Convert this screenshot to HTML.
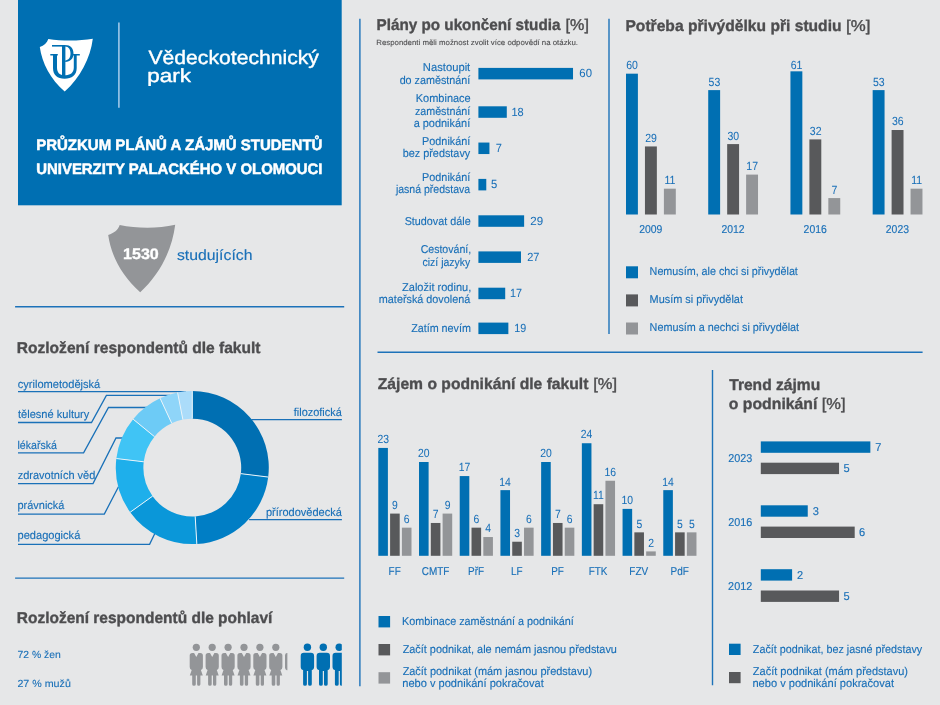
<!DOCTYPE html>
<html lang="cs"><head><meta charset="utf-8"><title>Průzkum plánů a zájmů studentů Univerzity Palackého v Olomouci</title>
<style>
html,body{margin:0;padding:0;background:#e6e7e8;}
body{width:940px;height:705px;overflow:hidden;}
svg{display:block;font-family:"Liberation Sans",sans-serif;}
text{stroke-linejoin:round;text-rendering:geometricPrecision;}
</style></head><body>
<svg width="940" height="705" viewBox="0 0 940 705">
<rect width="940" height="705" fill="#e6e7e8"/>
<rect x="18.00" y="0.00" width="323.70" height="205.30" fill="#006fb2"/>
<line x1="118.9" y1="22.4" x2="118.9" y2="107.8" stroke="#9fc8e8" stroke-width="1.6"/>
<path d="M39.8 46.9 C44 45.5 47 43 48.3 38.9 C62 41.2 79 41.2 92.8 38.8 C90.5 58 80 78 64.7 91.6 C50.5 79 42 63 39.8 46.9 Z" fill="#fff"/>
<g fill="#006fb2"><path d="M52 45 H65.4 V46.6 H52 Z"/><path d="M62 45 H65.4 V76.5 H62 Z"/><path d="M65.2 45.1 C70.4 45.1 73.5 48.5 73.5 53.6 C73.5 58.7 70.4 62 65.2 62 L65.2 60.5 C68.6 60.3 70.5 57.6 70.5 53.6 C70.5 49.6 68.6 46.8 65.2 46.6 Z"/><path d="M50.3 54 H57.8 V55.5 H50.3 Z M73 54 H79.8 V55.5 H73 Z"/><path d="M53 54.6 L53 68 C53 75 57.5 78.8 64.6 78.8 C71.8 78.8 76.7 75 76.7 68 L76.7 54.6 L73.8 54.6 L73.8 67.6 C73.8 72.6 70.6 75.2 65.9 75.2 L63.4 75.2 C59.6 75.2 57 72.6 57 67.6 L57 54.6 Z"/></g>
<text x="148.52" y="63.5" font-size="19.3" font-weight="normal" fill="#fff" stroke="#fff" stroke-width="0.4" textLength="170.36" lengthAdjust="spacingAndGlyphs">Vědeckotechnický</text>
<text x="147.19" y="81.8" font-size="18.9" font-weight="normal" fill="#fff" stroke="#fff" stroke-width="0.4" textLength="43.76" lengthAdjust="spacingAndGlyphs">park</text>
<text x="36.18" y="149.5" font-size="15.1" font-weight="bold" fill="#fff" stroke="#fff" stroke-width="0.5" textLength="286.23" lengthAdjust="spacingAndGlyphs">PRŮZKUM PLÁNŮ A ZÁJMŮ STUDENTŮ</text>
<text x="36.25" y="174.2" font-size="15.1" font-weight="bold" fill="#fff" stroke="#fff" stroke-width="0.5" textLength="286.24" lengthAdjust="spacingAndGlyphs">UNIVERZITY PALACKÉHO V OLOMOUCI</text>
<path d="M108.2 234.9 C114 233 118 230 119.7 224.9 C137 228.6 158 228.6 175.2 224.8 C172 250 160 274 140.2 292.3 C121 275 111 255 108.2 234.9 Z" fill="#939598"/>
<text x="123.02" y="259.4" font-size="15.2" font-weight="bold" fill="#fff" stroke="#fff" stroke-width="0.35" textLength="35.78" lengthAdjust="spacingAndGlyphs">1530</text>
<text x="176.98" y="260.3" font-size="14.7" font-weight="normal" fill="#1a70b8" stroke="#1a70b8" stroke-width="0.14" textLength="75.51" lengthAdjust="spacingAndGlyphs">studujících</text>
<line x1="15.1" y1="306.8" x2="344.2" y2="306.8" stroke="#1c72b9" stroke-width="1.4"/>
<line x1="15.1" y1="578.1" x2="344.2" y2="578.1" stroke="#1c72b9" stroke-width="1.4"/>
<line x1="359.9" y1="18.8" x2="359.9" y2="686.2" stroke="#1c72b9" stroke-width="1.4"/>
<line x1="609.0" y1="18.8" x2="609.0" y2="333.9" stroke="#1c72b9" stroke-width="1.4"/>
<line x1="377.5" y1="352.2" x2="922.6" y2="352.2" stroke="#1c72b9" stroke-width="1.4"/>
<line x1="712.5" y1="370.1" x2="712.5" y2="685.2" stroke="#1c72b9" stroke-width="1.4"/>
<text x="16.76" y="352.6" font-size="15.7" font-weight="bold" fill="#4d4d4f" stroke="#4d4d4f" stroke-width="0.35" textLength="243.79" lengthAdjust="spacingAndGlyphs">Rozložení respondentů dle fakult</text>
<text x="16.77" y="623.0" font-size="15.7" font-weight="bold" fill="#4d4d4f" stroke="#4d4d4f" stroke-width="0.35" textLength="255.54" lengthAdjust="spacingAndGlyphs">Rozložení respondentů dle pohlaví</text>
<text x="376.48" y="30.4" font-size="15.7" font-weight="bold" fill="#4d4d4f" stroke="#4d4d4f" stroke-width="0.35" textLength="184.02" lengthAdjust="spacingAndGlyphs">Plány po ukončení studia</text>
<text x="565.58" y="30.4" font-size="15.7" font-weight="normal" fill="#4d4d4f" stroke="#4d4d4f" stroke-width="0.4" textLength="23.31" lengthAdjust="spacingAndGlyphs">[%]</text>
<text x="625.46" y="30.5" font-size="15.7" font-weight="bold" fill="#4d4d4f" stroke="#4d4d4f" stroke-width="0.35" textLength="216.10" lengthAdjust="spacingAndGlyphs">Potřeba přivýdělku při studiu</text>
<text x="846.04" y="30.5" font-size="15.7" font-weight="normal" fill="#4d4d4f" stroke="#4d4d4f" stroke-width="0.4" textLength="24.29" lengthAdjust="spacingAndGlyphs">[%]</text>
<text x="377.78" y="389.4" font-size="15.7" font-weight="bold" fill="#4d4d4f" stroke="#4d4d4f" stroke-width="0.35" textLength="210.67" lengthAdjust="spacingAndGlyphs">Zájem o podnikání dle fakult</text>
<text x="593.25" y="389.4" font-size="15.7" font-weight="normal" fill="#4d4d4f" stroke="#4d4d4f" stroke-width="0.4" textLength="23.86" lengthAdjust="spacingAndGlyphs">[%]</text>
<text x="729.22" y="389.8" font-size="15.7" font-weight="bold" fill="#4d4d4f" stroke="#4d4d4f" stroke-width="0.35" textLength="90.93" lengthAdjust="spacingAndGlyphs">Trend zájmu</text>
<text x="728.82" y="408.9" font-size="15.7" font-weight="bold" fill="#4d4d4f" stroke="#4d4d4f" stroke-width="0.35" textLength="88.57" lengthAdjust="spacingAndGlyphs">o podnikání</text>
<text x="821.76" y="408.9" font-size="15.7" font-weight="normal" fill="#4d4d4f" stroke="#4d4d4f" stroke-width="0.4" textLength="23.75" lengthAdjust="spacingAndGlyphs">[%]</text>
<text x="376.22" y="45.1" font-size="7.6" font-weight="normal" fill="#4d4d4f" stroke="#4d4d4f" stroke-width="0.1" textLength="201.81" lengthAdjust="spacingAndGlyphs">Respondenti měli možnost zvolit více odpovědí na otázku.</text>
<polyline points="18,391.6 186,391.6" fill="none" stroke="#1a71b8" stroke-width="1.3"/>
<polyline points="18,422.5 91.5,422.5 106.4,395.4 170,395.4" fill="none" stroke="#1a71b8" stroke-width="1.3"/>
<polyline points="18,452.8 83.6,452.8 108.5,407.5 147,407.5" fill="none" stroke="#1a71b8" stroke-width="1.3"/>
<polyline points="18,483.6 93,483.6 116,438.0 124,438.0" fill="none" stroke="#1a71b8" stroke-width="1.3"/>
<polyline points="18,514.1 104.3,514.1 118.5,486.7" fill="none" stroke="#1a71b8" stroke-width="1.3"/>
<polyline points="18,544.3 149.6,544.3 155.2,532.7" fill="none" stroke="#1a71b8" stroke-width="1.3"/>
<polyline points="251.3,419.6 341.9,419.6" fill="none" stroke="#1a71b8" stroke-width="1.3"/>
<polyline points="249.1,519.6 341.9,519.6" fill="none" stroke="#1a71b8" stroke-width="1.3"/>
<path d="M192.30 391.10 A76.5 76.5 0 0 1 268.21 477.06 L240.83 473.64 A48.9 48.9 0 0 0 192.30 418.70 Z" fill="#006fb2"/>
<path d="M268.21 477.06 A76.5 76.5 0 0 1 196.84 543.97 L195.20 516.41 A48.9 48.9 0 0 0 240.83 473.64 Z" fill="#007ec5"/>
<path d="M196.84 543.97 A76.5 76.5 0 0 1 130.18 512.24 L152.59 496.14 A48.9 48.9 0 0 0 195.20 516.41 Z" fill="#0a97d9"/>
<path d="M130.18 512.24 A76.5 76.5 0 0 1 116.34 458.54 L143.74 461.81 A48.9 48.9 0 0 0 152.59 496.14 Z" fill="#1eafeb"/>
<path d="M116.34 458.54 A76.5 76.5 0 0 1 133.10 419.15 L154.46 436.63 A48.9 48.9 0 0 0 143.74 461.81 Z" fill="#40c4f5"/>
<path d="M133.10 419.15 A76.5 76.5 0 0 1 160.09 398.21 L171.71 423.25 A48.9 48.9 0 0 0 154.46 436.63 Z" fill="#6dcbf6"/>
<path d="M160.09 398.21 A76.5 76.5 0 0 1 177.57 392.53 L182.89 419.61 A48.9 48.9 0 0 0 171.71 423.25 Z" fill="#8fd5f9"/>
<path d="M177.57 392.53 A76.5 76.5 0 0 1 192.30 391.10 L192.30 418.70 A48.9 48.9 0 0 0 182.89 419.61 Z" fill="#abdcfa"/>
<line x1="268.21" y1="477.06" x2="240.83" y2="473.64" stroke="#eaf4fa" stroke-width="1"/>
<line x1="196.84" y1="543.97" x2="195.20" y2="516.41" stroke="#eaf4fa" stroke-width="1"/>
<line x1="130.18" y1="512.24" x2="152.59" y2="496.14" stroke="#eaf4fa" stroke-width="1"/>
<line x1="116.34" y1="458.54" x2="143.74" y2="461.81" stroke="#eaf4fa" stroke-width="1"/>
<line x1="133.10" y1="419.15" x2="154.46" y2="436.63" stroke="#eaf4fa" stroke-width="1"/>
<line x1="160.09" y1="398.21" x2="171.71" y2="423.25" stroke="#eaf4fa" stroke-width="1"/>
<line x1="177.57" y1="392.53" x2="182.89" y2="419.61" stroke="#eaf4fa" stroke-width="1"/>
<line x1="192.30" y1="391.10" x2="192.30" y2="418.70" stroke="#eaf4fa" stroke-width="1"/>
<text x="17.72" y="387.9" font-size="11.45" font-weight="normal" fill="#1a70b8" stroke="#1a70b8" stroke-width="0.14" textLength="82.57" lengthAdjust="spacingAndGlyphs">cyrilometodějská</text>
<text x="18.00" y="418.2" font-size="11.45" font-weight="normal" fill="#1a70b8" stroke="#1a70b8" stroke-width="0.14" textLength="71.33" lengthAdjust="spacingAndGlyphs">tělesné kultury</text>
<text x="17.48" y="448.5" font-size="11.45" font-weight="normal" fill="#1a70b8" stroke="#1a70b8" stroke-width="0.14" textLength="39.42" lengthAdjust="spacingAndGlyphs">lékařská</text>
<text x="17.73" y="478.8" font-size="11.45" font-weight="normal" fill="#1a70b8" stroke="#1a70b8" stroke-width="0.14" textLength="77.58" lengthAdjust="spacingAndGlyphs">zdravotních věd</text>
<text x="17.51" y="509.1" font-size="11.45" font-weight="normal" fill="#1a70b8" stroke="#1a70b8" stroke-width="0.14" textLength="46.88" lengthAdjust="spacingAndGlyphs">právnická</text>
<text x="17.50" y="539.4" font-size="11.45" font-weight="normal" fill="#1a70b8" stroke="#1a70b8" stroke-width="0.14" textLength="62.79" lengthAdjust="spacingAndGlyphs">pedagogická</text>
<text x="293.76" y="416.0" font-size="11.45" font-weight="normal" fill="#1a70b8" stroke="#1a70b8" stroke-width="0.14" textLength="48.03" lengthAdjust="spacingAndGlyphs">filozofická</text>
<text x="266.01" y="516.2" font-size="11.45" font-weight="normal" fill="#1a70b8" stroke="#1a70b8" stroke-width="0.14" textLength="75.78" lengthAdjust="spacingAndGlyphs">přírodovědecká</text>
<text x="17.44" y="658.4" font-size="10.3" font-weight="normal" fill="#1a70b8" stroke="#1a70b8" stroke-width="0.12" textLength="43.33" lengthAdjust="spacingAndGlyphs">72 % žen</text>
<text x="17.43" y="686.5" font-size="10.3" font-weight="normal" fill="#1a70b8" stroke="#1a70b8" stroke-width="0.12" textLength="53.42" lengthAdjust="spacingAndGlyphs">27 % mužů</text>
<defs><clipPath id="cw"><rect x="180" y="640" width="107.6" height="50"/></clipPath><clipPath id="cm"><rect x="295" y="640" width="46.8" height="50"/></clipPath></defs>
<g fill="#939598" clip-path="url(#cw)"><g transform="translate(196.30 666.9)"><circle cx="0" cy="-19.6" r="3.6"/><path d="M-6.6 -11.3 Q-6.6 -14 -4 -14 L-2.2 -14 L0 -9.9 L2.2 -14 L4 -14 Q6.6 -14 6.6 -11.3 L6.6 0 Q6.6 2.6 4.6 3 L6.5 8.6 L4.1 8.6 L4.1 17.4 Q4.1 18.9 2.4 18.9 Q0.8 18.9 0.8 17.4 L0.8 8.6 L-0.5 8.6 L-0.5 17.4 Q-0.5 18.9 -2.3 18.9 Q-4.1 18.9 -4.1 17.4 L-4.1 8.6 L-6.5 8.6 L-4.6 3 Q-6.6 2.6 -6.6 0 Z"/></g><g transform="translate(212.20 666.9)"><circle cx="0" cy="-19.6" r="3.6"/><path d="M-6.6 -11.3 Q-6.6 -14 -4 -14 L-2.2 -14 L0 -9.9 L2.2 -14 L4 -14 Q6.6 -14 6.6 -11.3 L6.6 0 Q6.6 2.6 4.6 3 L6.5 8.6 L4.1 8.6 L4.1 17.4 Q4.1 18.9 2.4 18.9 Q0.8 18.9 0.8 17.4 L0.8 8.6 L-0.5 8.6 L-0.5 17.4 Q-0.5 18.9 -2.3 18.9 Q-4.1 18.9 -4.1 17.4 L-4.1 8.6 L-6.5 8.6 L-4.6 3 Q-6.6 2.6 -6.6 0 Z"/></g><g transform="translate(228.10 666.9)"><circle cx="0" cy="-19.6" r="3.6"/><path d="M-6.6 -11.3 Q-6.6 -14 -4 -14 L-2.2 -14 L0 -9.9 L2.2 -14 L4 -14 Q6.6 -14 6.6 -11.3 L6.6 0 Q6.6 2.6 4.6 3 L6.5 8.6 L4.1 8.6 L4.1 17.4 Q4.1 18.9 2.4 18.9 Q0.8 18.9 0.8 17.4 L0.8 8.6 L-0.5 8.6 L-0.5 17.4 Q-0.5 18.9 -2.3 18.9 Q-4.1 18.9 -4.1 17.4 L-4.1 8.6 L-6.5 8.6 L-4.6 3 Q-6.6 2.6 -6.6 0 Z"/></g><g transform="translate(244.00 666.9)"><circle cx="0" cy="-19.6" r="3.6"/><path d="M-6.6 -11.3 Q-6.6 -14 -4 -14 L-2.2 -14 L0 -9.9 L2.2 -14 L4 -14 Q6.6 -14 6.6 -11.3 L6.6 0 Q6.6 2.6 4.6 3 L6.5 8.6 L4.1 8.6 L4.1 17.4 Q4.1 18.9 2.4 18.9 Q0.8 18.9 0.8 17.4 L0.8 8.6 L-0.5 8.6 L-0.5 17.4 Q-0.5 18.9 -2.3 18.9 Q-4.1 18.9 -4.1 17.4 L-4.1 8.6 L-6.5 8.6 L-4.6 3 Q-6.6 2.6 -6.6 0 Z"/></g><g transform="translate(259.90 666.9)"><circle cx="0" cy="-19.6" r="3.6"/><path d="M-6.6 -11.3 Q-6.6 -14 -4 -14 L-2.2 -14 L0 -9.9 L2.2 -14 L4 -14 Q6.6 -14 6.6 -11.3 L6.6 0 Q6.6 2.6 4.6 3 L6.5 8.6 L4.1 8.6 L4.1 17.4 Q4.1 18.9 2.4 18.9 Q0.8 18.9 0.8 17.4 L0.8 8.6 L-0.5 8.6 L-0.5 17.4 Q-0.5 18.9 -2.3 18.9 Q-4.1 18.9 -4.1 17.4 L-4.1 8.6 L-6.5 8.6 L-4.6 3 Q-6.6 2.6 -6.6 0 Z"/></g><g transform="translate(275.80 666.9)"><circle cx="0" cy="-19.6" r="3.6"/><path d="M-6.6 -11.3 Q-6.6 -14 -4 -14 L-2.2 -14 L0 -9.9 L2.2 -14 L4 -14 Q6.6 -14 6.6 -11.3 L6.6 0 Q6.6 2.6 4.6 3 L6.5 8.6 L4.1 8.6 L4.1 17.4 Q4.1 18.9 2.4 18.9 Q0.8 18.9 0.8 17.4 L0.8 8.6 L-0.5 8.6 L-0.5 17.4 Q-0.5 18.9 -2.3 18.9 Q-4.1 18.9 -4.1 17.4 L-4.1 8.6 L-6.5 8.6 L-4.6 3 Q-6.6 2.6 -6.6 0 Z"/></g><path d="M287.6 652.9 L286.8 652.9 Q285 653.2 285 655.5 L285 667.5 Q285 669.8 286.8 670.2 L287.6 670.2 Z"/></g>
<g fill="#006fb2" clip-path="url(#cm)"><g transform="translate(307.40 666.9)"><circle cx="0" cy="-19.6" r="3.7"/><path d="M-6.7 -11 Q-6.7 -14.2 -3.5 -14.2 L3.5 -14.2 Q6.7 -14.2 6.7 -11 L6.7 -0.5 Q6.7 2.6 4.4 3 L4.4 17.3 Q4.4 18.9 2.5 18.9 Q0.7 18.9 0.7 17.3 L0.7 4 L-0.5 4 L-0.5 17.3 Q-0.5 18.9 -2.4 18.9 Q-4.3 18.9 -4.3 17.3 L-4.3 3 Q-6.7 2.6 -6.7 -0.5 Z"/></g><g transform="translate(323.30 666.9)"><circle cx="0" cy="-19.6" r="3.7"/><path d="M-6.7 -11 Q-6.7 -14.2 -3.5 -14.2 L3.5 -14.2 Q6.7 -14.2 6.7 -11 L6.7 -0.5 Q6.7 2.6 4.4 3 L4.4 17.3 Q4.4 18.9 2.5 18.9 Q0.7 18.9 0.7 17.3 L0.7 4 L-0.5 4 L-0.5 17.3 Q-0.5 18.9 -2.4 18.9 Q-4.3 18.9 -4.3 17.3 L-4.3 3 Q-6.7 2.6 -6.7 -0.5 Z"/></g><g transform="translate(339.20 666.9)"><circle cx="0" cy="-19.6" r="3.7"/><path d="M-6.7 -11 Q-6.7 -14.2 -3.5 -14.2 L3.5 -14.2 Q6.7 -14.2 6.7 -11 L6.7 -0.5 Q6.7 2.6 4.4 3 L4.4 17.3 Q4.4 18.9 2.5 18.9 Q0.7 18.9 0.7 17.3 L0.7 4 L-0.5 4 L-0.5 17.3 Q-0.5 18.9 -2.4 18.9 Q-4.3 18.9 -4.3 17.3 L-4.3 3 Q-6.7 2.6 -6.7 -0.5 Z"/></g></g>
<rect x="478.40" y="67.90" width="94.62" height="11.50" fill="#006fb2"/>
<text x="579.36" y="77.2" font-size="11.8" font-weight="normal" fill="#1a70b8" stroke="#1a70b8" stroke-width="0.05" textLength="12.63" lengthAdjust="spacingAndGlyphs">60</text>
<text x="422.87" y="71.1" font-size="11.45" font-weight="normal" fill="#1a70b8" stroke="#1a70b8" stroke-width="0.14" textLength="47.39" lengthAdjust="spacingAndGlyphs">Nastoupit</text>
<text x="399.64" y="83.6" font-size="11.45" font-weight="normal" fill="#1a70b8" stroke="#1a70b8" stroke-width="0.14" textLength="70.63" lengthAdjust="spacingAndGlyphs">do zaměstnání</text>
<rect x="478.40" y="106.30" width="28.39" height="11.50" fill="#006fb2"/>
<text x="511.40" y="115.5" font-size="11.8" font-weight="normal" fill="#1a70b8" stroke="#1a70b8" stroke-width="0.05" textLength="12.23" lengthAdjust="spacingAndGlyphs">18</text>
<text x="415.79" y="102.2" font-size="11.45" font-weight="normal" fill="#1a70b8" stroke="#1a70b8" stroke-width="0.14" textLength="54.90" lengthAdjust="spacingAndGlyphs">Kombinace</text>
<text x="414.94" y="114.7" font-size="11.45" font-weight="normal" fill="#1a70b8" stroke="#1a70b8" stroke-width="0.14" textLength="55.33" lengthAdjust="spacingAndGlyphs">zaměstnání</text>
<text x="413.63" y="127.3" font-size="11.45" font-weight="normal" fill="#1a70b8" stroke="#1a70b8" stroke-width="0.14" textLength="56.64" lengthAdjust="spacingAndGlyphs">a podnikání</text>
<rect x="478.40" y="142.55" width="11.04" height="11.50" fill="#006fb2"/>
<text x="495.87" y="151.8" font-size="11.8" font-weight="normal" fill="#1a70b8" stroke="#1a70b8" stroke-width="0.05" textLength="6.11" lengthAdjust="spacingAndGlyphs">7</text>
<text x="422.10" y="144.9" font-size="11.45" font-weight="normal" fill="#1a70b8" stroke="#1a70b8" stroke-width="0.14" textLength="48.16" lengthAdjust="spacingAndGlyphs">Podnikání</text>
<text x="402.72" y="157.2" font-size="11.45" font-weight="normal" fill="#1a70b8" stroke="#1a70b8" stroke-width="0.14" textLength="67.52" lengthAdjust="spacingAndGlyphs">bez představy</text>
<rect x="478.40" y="178.90" width="7.88" height="11.50" fill="#006fb2"/>
<text x="491.07" y="188.2" font-size="11.8" font-weight="normal" fill="#1a70b8" stroke="#1a70b8" stroke-width="0.05" textLength="6.27" lengthAdjust="spacingAndGlyphs">5</text>
<text x="422.10" y="180.9" font-size="11.45" font-weight="normal" fill="#1a70b8" stroke="#1a70b8" stroke-width="0.14" textLength="48.16" lengthAdjust="spacingAndGlyphs">Podnikání</text>
<text x="395.93" y="193.4" font-size="11.45" font-weight="normal" fill="#1a70b8" stroke="#1a70b8" stroke-width="0.14" textLength="74.27" lengthAdjust="spacingAndGlyphs">jasná představa</text>
<rect x="478.40" y="215.30" width="45.73" height="11.50" fill="#006fb2"/>
<text x="530.25" y="224.6" font-size="11.8" font-weight="normal" fill="#1a70b8" stroke="#1a70b8" stroke-width="0.05" textLength="12.86" lengthAdjust="spacingAndGlyphs">29</text>
<text x="404.68" y="224.5" font-size="11.45" font-weight="normal" fill="#1a70b8" stroke="#1a70b8" stroke-width="0.14" textLength="66.00" lengthAdjust="spacingAndGlyphs">Studovat dále</text>
<rect x="478.40" y="251.40" width="42.58" height="11.50" fill="#006fb2"/>
<text x="527.27" y="260.6" font-size="11.8" font-weight="normal" fill="#1a70b8" stroke="#1a70b8" stroke-width="0.05" textLength="12.21" lengthAdjust="spacingAndGlyphs">27</text>
<text x="420.64" y="253.4" font-size="11.45" font-weight="normal" fill="#1a70b8" stroke="#1a70b8" stroke-width="0.14" textLength="50.53" lengthAdjust="spacingAndGlyphs">Cestování,</text>
<text x="422.55" y="265.7" font-size="11.45" font-weight="normal" fill="#1a70b8" stroke="#1a70b8" stroke-width="0.14" textLength="47.69" lengthAdjust="spacingAndGlyphs">cizí jazyky</text>
<rect x="478.40" y="287.70" width="26.81" height="11.50" fill="#006fb2"/>
<text x="509.92" y="296.9" font-size="11.8" font-weight="normal" fill="#1a70b8" stroke="#1a70b8" stroke-width="0.05" textLength="11.96" lengthAdjust="spacingAndGlyphs">17</text>
<text x="402.04" y="290.5" font-size="11.45" font-weight="normal" fill="#1a70b8" stroke="#1a70b8" stroke-width="0.14" textLength="69.16" lengthAdjust="spacingAndGlyphs">Založit rodinu,</text>
<text x="378.86" y="303.1" font-size="11.45" font-weight="normal" fill="#1a70b8" stroke="#1a70b8" stroke-width="0.14" textLength="91.33" lengthAdjust="spacingAndGlyphs">mateřská dovolená</text>
<rect x="478.40" y="322.60" width="29.96" height="11.50" fill="#006fb2"/>
<text x="514.22" y="331.9" font-size="11.8" font-weight="normal" fill="#1a70b8" stroke="#1a70b8" stroke-width="0.05" textLength="11.96" lengthAdjust="spacingAndGlyphs">19</text>
<text x="411.14" y="331.5" font-size="11.45" font-weight="normal" fill="#1a70b8" stroke="#1a70b8" stroke-width="0.14" textLength="59.77" lengthAdjust="spacingAndGlyphs">Zatím nevím</text>
<rect x="626.00" y="73.68" width="11.90" height="140.82" fill="#006fb2"/>
<text x="626.29" y="69.1" font-size="11.8" font-weight="normal" fill="#1a70b8" stroke="#1a70b8" stroke-width="0.05" textLength="11.68" lengthAdjust="spacingAndGlyphs">60</text>
<rect x="644.95" y="146.44" width="11.90" height="68.06" fill="#58595b"/>
<text x="645.29" y="141.8" font-size="11.8" font-weight="normal" fill="#1a70b8" stroke="#1a70b8" stroke-width="0.05" textLength="11.68" lengthAdjust="spacingAndGlyphs">29</text>
<rect x="663.90" y="188.68" width="11.90" height="25.82" fill="#939598"/>
<text x="664.50" y="184.1" font-size="11.8" font-weight="normal" fill="#1a70b8" stroke="#1a70b8" stroke-width="0.05" textLength="10.90" lengthAdjust="spacingAndGlyphs">11</text>
<text x="639.19" y="233.2" font-size="11.45" font-weight="normal" fill="#1a70b8" stroke="#1a70b8" stroke-width="0.14" textLength="23.18" lengthAdjust="spacingAndGlyphs">2009</text>
<rect x="708.22" y="90.11" width="11.90" height="124.39" fill="#006fb2"/>
<text x="708.59" y="85.5" font-size="11.8" font-weight="normal" fill="#1a70b8" stroke="#1a70b8" stroke-width="0.05" textLength="11.68" lengthAdjust="spacingAndGlyphs">53</text>
<rect x="727.17" y="144.09" width="11.90" height="70.41" fill="#58595b"/>
<text x="727.54" y="139.5" font-size="11.8" font-weight="normal" fill="#1a70b8" stroke="#1a70b8" stroke-width="0.05" textLength="11.68" lengthAdjust="spacingAndGlyphs">30</text>
<rect x="746.12" y="174.60" width="11.90" height="39.90" fill="#939598"/>
<text x="746.33" y="170.0" font-size="11.8" font-weight="normal" fill="#1a70b8" stroke="#1a70b8" stroke-width="0.05" textLength="11.68" lengthAdjust="spacingAndGlyphs">17</text>
<text x="721.41" y="233.2" font-size="11.45" font-weight="normal" fill="#1a70b8" stroke="#1a70b8" stroke-width="0.14" textLength="23.18" lengthAdjust="spacingAndGlyphs">2012</text>
<rect x="790.44" y="71.33" width="11.90" height="143.17" fill="#006fb2"/>
<text x="790.78" y="68.8" font-size="11.8" font-weight="normal" fill="#1a70b8" stroke="#1a70b8" stroke-width="0.05" textLength="11.68" lengthAdjust="spacingAndGlyphs">61</text>
<rect x="809.39" y="139.40" width="11.90" height="75.10" fill="#58595b"/>
<text x="809.81" y="134.8" font-size="11.8" font-weight="normal" fill="#1a70b8" stroke="#1a70b8" stroke-width="0.05" textLength="11.68" lengthAdjust="spacingAndGlyphs">32</text>
<rect x="828.34" y="198.07" width="11.90" height="16.43" fill="#939598"/>
<text x="831.60" y="193.5" font-size="11.8" font-weight="normal" fill="#1a70b8" stroke="#1a70b8" stroke-width="0.05" textLength="5.84" lengthAdjust="spacingAndGlyphs">7</text>
<text x="803.60" y="233.2" font-size="11.45" font-weight="normal" fill="#1a70b8" stroke="#1a70b8" stroke-width="0.14" textLength="23.18" lengthAdjust="spacingAndGlyphs">2016</text>
<rect x="872.66" y="90.11" width="11.90" height="124.39" fill="#006fb2"/>
<text x="873.03" y="85.5" font-size="11.8" font-weight="normal" fill="#1a70b8" stroke="#1a70b8" stroke-width="0.05" textLength="11.68" lengthAdjust="spacingAndGlyphs">53</text>
<rect x="891.61" y="130.01" width="11.90" height="84.49" fill="#58595b"/>
<text x="892.00" y="125.4" font-size="11.8" font-weight="normal" fill="#1a70b8" stroke="#1a70b8" stroke-width="0.05" textLength="11.68" lengthAdjust="spacingAndGlyphs">36</text>
<rect x="910.56" y="188.68" width="11.90" height="25.82" fill="#939598"/>
<text x="911.16" y="184.1" font-size="11.8" font-weight="normal" fill="#1a70b8" stroke="#1a70b8" stroke-width="0.05" textLength="10.90" lengthAdjust="spacingAndGlyphs">11</text>
<text x="885.82" y="233.2" font-size="11.45" font-weight="normal" fill="#1a70b8" stroke="#1a70b8" stroke-width="0.14" textLength="23.18" lengthAdjust="spacingAndGlyphs">2023</text>
<rect x="626.00" y="266.30" width="12.00" height="12.00" fill="#006fb2"/>
<text x="649.61" y="275.2" font-size="11.45" font-weight="normal" fill="#1a70b8" stroke="#1a70b8" stroke-width="0.14" textLength="148.26" lengthAdjust="spacingAndGlyphs">Nemusím, ale chci si přivydělat</text>
<rect x="626.00" y="294.40" width="12.00" height="12.00" fill="#58595b"/>
<text x="649.59" y="303.3" font-size="11.45" font-weight="normal" fill="#1a70b8" stroke="#1a70b8" stroke-width="0.14" textLength="93.37" lengthAdjust="spacingAndGlyphs">Musím si přivydělat</text>
<rect x="626.00" y="322.50" width="12.00" height="12.00" fill="#939598"/>
<text x="649.60" y="331.4" font-size="11.45" font-weight="normal" fill="#1a70b8" stroke="#1a70b8" stroke-width="0.14" textLength="149.46" lengthAdjust="spacingAndGlyphs">Nemusím a nechci si přivydělat</text>
<rect x="378.30" y="447.93" width="9.60" height="107.87" fill="#006fb2"/>
<text x="377.38" y="443.1" font-size="11.8" font-weight="normal" fill="#1a70b8" stroke="#1a70b8" stroke-width="0.05" textLength="11.55" lengthAdjust="spacingAndGlyphs">23</text>
<rect x="390.10" y="513.59" width="9.60" height="42.21" fill="#58595b"/>
<text x="392.12" y="508.8" font-size="11.8" font-weight="normal" fill="#1a70b8" stroke="#1a70b8" stroke-width="0.05" textLength="5.78" lengthAdjust="spacingAndGlyphs">9</text>
<rect x="401.90" y="527.66" width="9.60" height="28.14" fill="#939598"/>
<text x="403.87" y="522.9" font-size="11.8" font-weight="normal" fill="#1a70b8" stroke="#1a70b8" stroke-width="0.05" textLength="5.78" lengthAdjust="spacingAndGlyphs">6</text>
<text x="388.60" y="574.5" font-size="11.45" font-weight="normal" fill="#1a70b8" stroke="#1a70b8" stroke-width="0.14" textLength="12.17" lengthAdjust="spacingAndGlyphs">FF</text>
<rect x="419.01" y="462.00" width="9.60" height="93.80" fill="#006fb2"/>
<text x="418.06" y="457.2" font-size="11.8" font-weight="normal" fill="#1a70b8" stroke="#1a70b8" stroke-width="0.05" textLength="11.55" lengthAdjust="spacingAndGlyphs">20</text>
<rect x="430.81" y="522.97" width="9.60" height="32.83" fill="#58595b"/>
<text x="432.80" y="518.2" font-size="11.8" font-weight="normal" fill="#1a70b8" stroke="#1a70b8" stroke-width="0.05" textLength="5.78" lengthAdjust="spacingAndGlyphs">7</text>
<rect x="442.61" y="513.59" width="9.60" height="42.21" fill="#939598"/>
<text x="444.63" y="508.8" font-size="11.8" font-weight="normal" fill="#1a70b8" stroke="#1a70b8" stroke-width="0.05" textLength="5.78" lengthAdjust="spacingAndGlyphs">9</text>
<text x="421.71" y="574.5" font-size="11.45" font-weight="normal" fill="#1a70b8" stroke="#1a70b8" stroke-width="0.14" textLength="27.66" lengthAdjust="spacingAndGlyphs">CMTF</text>
<rect x="459.72" y="476.07" width="9.60" height="79.73" fill="#006fb2"/>
<text x="458.70" y="471.3" font-size="11.8" font-weight="normal" fill="#1a70b8" stroke="#1a70b8" stroke-width="0.05" textLength="11.55" lengthAdjust="spacingAndGlyphs">17</text>
<rect x="471.52" y="527.66" width="9.60" height="28.14" fill="#58595b"/>
<text x="473.49" y="522.9" font-size="11.8" font-weight="normal" fill="#1a70b8" stroke="#1a70b8" stroke-width="0.05" textLength="5.78" lengthAdjust="spacingAndGlyphs">6</text>
<rect x="483.32" y="537.04" width="9.60" height="18.76" fill="#939598"/>
<text x="485.36" y="532.2" font-size="11.8" font-weight="normal" fill="#1a70b8" stroke="#1a70b8" stroke-width="0.05" textLength="5.78" lengthAdjust="spacingAndGlyphs">4</text>
<text x="468.08" y="574.5" font-size="11.45" font-weight="normal" fill="#1a70b8" stroke="#1a70b8" stroke-width="0.14" textLength="16.05" lengthAdjust="spacingAndGlyphs">PřF</text>
<rect x="500.43" y="490.14" width="9.60" height="65.66" fill="#006fb2"/>
<text x="499.30" y="486.1" font-size="11.8" font-weight="normal" fill="#1a70b8" stroke="#1a70b8" stroke-width="0.05" textLength="11.55" lengthAdjust="spacingAndGlyphs">14</text>
<rect x="512.23" y="541.73" width="9.60" height="14.07" fill="#58595b"/>
<text x="514.27" y="536.9" font-size="11.8" font-weight="normal" fill="#1a70b8" stroke="#1a70b8" stroke-width="0.05" textLength="5.78" lengthAdjust="spacingAndGlyphs">3</text>
<rect x="524.03" y="527.66" width="9.60" height="28.14" fill="#939598"/>
<text x="526.00" y="522.9" font-size="11.8" font-weight="normal" fill="#1a70b8" stroke="#1a70b8" stroke-width="0.05" textLength="5.78" lengthAdjust="spacingAndGlyphs">6</text>
<text x="511.00" y="574.5" font-size="11.45" font-weight="normal" fill="#1a70b8" stroke="#1a70b8" stroke-width="0.14" textLength="11.62" lengthAdjust="spacingAndGlyphs">LF</text>
<rect x="541.14" y="462.00" width="9.60" height="93.80" fill="#006fb2"/>
<text x="540.19" y="457.2" font-size="11.8" font-weight="normal" fill="#1a70b8" stroke="#1a70b8" stroke-width="0.05" textLength="11.55" lengthAdjust="spacingAndGlyphs">20</text>
<rect x="552.94" y="522.97" width="9.60" height="32.83" fill="#58595b"/>
<text x="554.93" y="518.2" font-size="11.8" font-weight="normal" fill="#1a70b8" stroke="#1a70b8" stroke-width="0.05" textLength="5.78" lengthAdjust="spacingAndGlyphs">7</text>
<rect x="564.74" y="527.66" width="9.60" height="28.14" fill="#939598"/>
<text x="566.71" y="522.9" font-size="11.8" font-weight="normal" fill="#1a70b8" stroke="#1a70b8" stroke-width="0.05" textLength="5.78" lengthAdjust="spacingAndGlyphs">6</text>
<text x="551.16" y="574.5" font-size="11.45" font-weight="normal" fill="#1a70b8" stroke="#1a70b8" stroke-width="0.14" textLength="12.73" lengthAdjust="spacingAndGlyphs">PF</text>
<rect x="581.85" y="443.24" width="9.60" height="112.56" fill="#006fb2"/>
<text x="580.85" y="438.4" font-size="11.8" font-weight="normal" fill="#1a70b8" stroke="#1a70b8" stroke-width="0.05" textLength="11.55" lengthAdjust="spacingAndGlyphs">24</text>
<rect x="593.65" y="504.21" width="9.60" height="51.59" fill="#58595b"/>
<text x="593.01" y="499.4" font-size="11.8" font-weight="normal" fill="#1a70b8" stroke="#1a70b8" stroke-width="0.05" textLength="10.78" lengthAdjust="spacingAndGlyphs">11</text>
<rect x="605.45" y="480.76" width="9.60" height="75.04" fill="#939598"/>
<text x="604.40" y="476.0" font-size="11.8" font-weight="normal" fill="#1a70b8" stroke="#1a70b8" stroke-width="0.05" textLength="11.55" lengthAdjust="spacingAndGlyphs">16</text>
<text x="588.68" y="574.5" font-size="11.45" font-weight="normal" fill="#1a70b8" stroke="#1a70b8" stroke-width="0.14" textLength="18.81" lengthAdjust="spacingAndGlyphs">FTK</text>
<rect x="622.56" y="508.90" width="9.60" height="46.90" fill="#006fb2"/>
<text x="621.48" y="504.1" font-size="11.8" font-weight="normal" fill="#1a70b8" stroke="#1a70b8" stroke-width="0.05" textLength="11.55" lengthAdjust="spacingAndGlyphs">10</text>
<rect x="634.36" y="532.35" width="9.60" height="23.45" fill="#58595b"/>
<text x="636.38" y="527.5" font-size="11.8" font-weight="normal" fill="#1a70b8" stroke="#1a70b8" stroke-width="0.05" textLength="5.78" lengthAdjust="spacingAndGlyphs">5</text>
<rect x="646.16" y="551.40" width="9.60" height="4.40" fill="#939598"/>
<text x="648.15" y="546.6" font-size="11.8" font-weight="normal" fill="#1a70b8" stroke="#1a70b8" stroke-width="0.05" textLength="5.78" lengthAdjust="spacingAndGlyphs">2</text>
<text x="629.36" y="574.5" font-size="11.45" font-weight="normal" fill="#1a70b8" stroke="#1a70b8" stroke-width="0.14" textLength="18.81" lengthAdjust="spacingAndGlyphs">FZV</text>
<rect x="663.27" y="490.14" width="9.60" height="65.66" fill="#006fb2"/>
<text x="662.14" y="486.1" font-size="11.8" font-weight="normal" fill="#1a70b8" stroke="#1a70b8" stroke-width="0.05" textLength="11.55" lengthAdjust="spacingAndGlyphs">14</text>
<rect x="675.07" y="532.35" width="9.60" height="23.45" fill="#58595b"/>
<text x="677.09" y="527.5" font-size="11.8" font-weight="normal" fill="#1a70b8" stroke="#1a70b8" stroke-width="0.05" textLength="5.78" lengthAdjust="spacingAndGlyphs">5</text>
<rect x="686.87" y="532.35" width="9.60" height="23.45" fill="#939598"/>
<text x="688.89" y="527.5" font-size="11.8" font-weight="normal" fill="#1a70b8" stroke="#1a70b8" stroke-width="0.05" textLength="5.78" lengthAdjust="spacingAndGlyphs">5</text>
<text x="670.52" y="574.5" font-size="11.45" font-weight="normal" fill="#1a70b8" stroke="#1a70b8" stroke-width="0.14" textLength="18.27" lengthAdjust="spacingAndGlyphs">PdF</text>
<rect x="378.50" y="616.00" width="11.60" height="11.40" fill="#006fb2"/>
<rect x="378.50" y="644.00" width="11.60" height="11.40" fill="#58595b"/>
<rect x="378.50" y="672.20" width="11.60" height="11.40" fill="#939598"/>
<text x="402.10" y="624.9" font-size="11.45" font-weight="normal" fill="#1a70b8" stroke="#1a70b8" stroke-width="0.14" textLength="171.76" lengthAdjust="spacingAndGlyphs">Kombinace zaměstnání a podnikání</text>
<text x="402.64" y="652.6" font-size="11.45" font-weight="normal" fill="#1a70b8" stroke="#1a70b8" stroke-width="0.14" textLength="214.31" lengthAdjust="spacingAndGlyphs">Začít podnikat, ale nemám jasnou představu</text>
<text x="402.64" y="674.5" font-size="11.45" font-weight="normal" fill="#1a70b8" stroke="#1a70b8" stroke-width="0.14" textLength="189.43" lengthAdjust="spacingAndGlyphs">Začít podnikat (mám jasnou představu)</text>
<text x="402.25" y="687.2" font-size="11.45" font-weight="normal" fill="#1a70b8" stroke="#1a70b8" stroke-width="0.14" textLength="141.52" lengthAdjust="spacingAndGlyphs">nebo v podnikání pokračovat</text>
<rect x="760.80" y="441.40" width="109.55" height="11.40" fill="#006fb2"/>
<rect x="760.80" y="462.70" width="78.25" height="11.40" fill="#58595b"/>
<text x="875.17" y="450.8" font-size="11.45" font-weight="normal" fill="#1a70b8" stroke="#1a70b8" stroke-width="0.14" textLength="6.15" lengthAdjust="spacingAndGlyphs">7</text>
<text x="843.38" y="472.2" font-size="11.45" font-weight="normal" fill="#1a70b8" stroke="#1a70b8" stroke-width="0.14" textLength="6.15" lengthAdjust="spacingAndGlyphs">5</text>
<text x="728.13" y="462.1" font-size="11.45" font-weight="normal" fill="#1a70b8" stroke="#1a70b8" stroke-width="0.14" textLength="24.05" lengthAdjust="spacingAndGlyphs">2023</text>
<rect x="760.80" y="505.30" width="46.95" height="11.40" fill="#006fb2"/>
<rect x="760.80" y="526.60" width="93.90" height="11.40" fill="#58595b"/>
<text x="812.73" y="514.7" font-size="11.45" font-weight="normal" fill="#1a70b8" stroke="#1a70b8" stroke-width="0.14" textLength="6.15" lengthAdjust="spacingAndGlyphs">3</text>
<text x="858.92" y="536.1" font-size="11.45" font-weight="normal" fill="#1a70b8" stroke="#1a70b8" stroke-width="0.14" textLength="6.15" lengthAdjust="spacingAndGlyphs">6</text>
<text x="728.13" y="525.6" font-size="11.45" font-weight="normal" fill="#1a70b8" stroke="#1a70b8" stroke-width="0.14" textLength="24.05" lengthAdjust="spacingAndGlyphs">2016</text>
<rect x="760.80" y="569.20" width="31.30" height="11.40" fill="#006fb2"/>
<rect x="760.80" y="590.50" width="78.25" height="11.40" fill="#58595b"/>
<text x="796.92" y="578.6" font-size="11.45" font-weight="normal" fill="#1a70b8" stroke="#1a70b8" stroke-width="0.14" textLength="6.15" lengthAdjust="spacingAndGlyphs">2</text>
<text x="843.38" y="600.0" font-size="11.45" font-weight="normal" fill="#1a70b8" stroke="#1a70b8" stroke-width="0.14" textLength="6.15" lengthAdjust="spacingAndGlyphs">5</text>
<text x="728.12" y="589.9" font-size="11.45" font-weight="normal" fill="#1a70b8" stroke="#1a70b8" stroke-width="0.14" textLength="24.11" lengthAdjust="spacingAndGlyphs">2012</text>
<rect x="729.00" y="643.70" width="11.60" height="11.30" fill="#006fb2"/>
<rect x="729.00" y="672.00" width="11.60" height="11.20" fill="#58595b"/>
<text x="752.84" y="652.5" font-size="11.45" font-weight="normal" fill="#1a70b8" stroke="#1a70b8" stroke-width="0.14" textLength="169.39" lengthAdjust="spacingAndGlyphs">Začít podnikat, bez jasné představy</text>
<text x="752.84" y="674.5" font-size="11.45" font-weight="normal" fill="#1a70b8" stroke="#1a70b8" stroke-width="0.14" textLength="155.13" lengthAdjust="spacingAndGlyphs">Začít podnikat (mám představu)</text>
<text x="752.45" y="687.1" font-size="11.45" font-weight="normal" fill="#1a70b8" stroke="#1a70b8" stroke-width="0.14" textLength="141.52" lengthAdjust="spacingAndGlyphs">nebo v podnikání pokračovat</text>
</svg>
</body></html>
